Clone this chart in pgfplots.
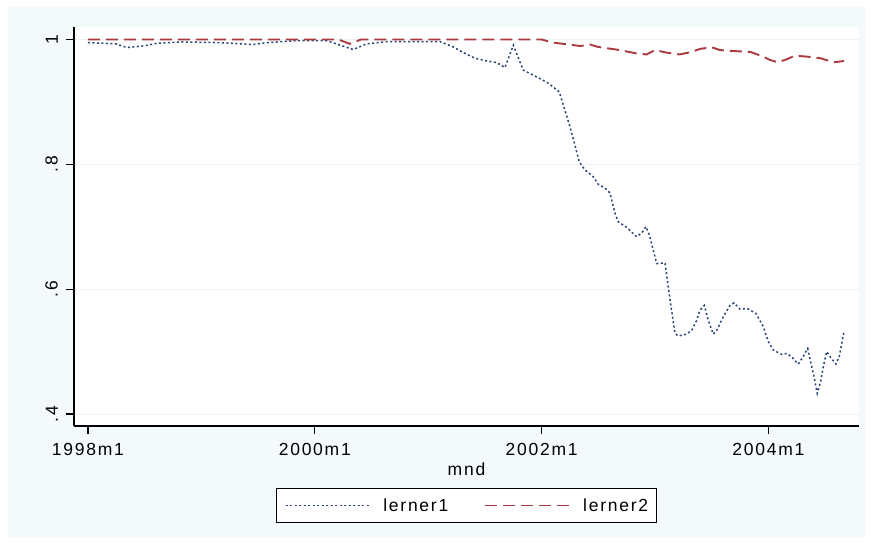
\documentclass[border=0pt]{standalone}
\usepackage{pgfplots}
\pgfplotsset{compat=1.18}
\usepackage{pgfplotstable}
\usepackage{fontspec}
\setmainfont{Liberation Sans}[LetterSpace=10]
\definecolor{bgblue}{RGB}{244,249,252}
\definecolor{gridblue}{RGB}{234,243,248}
\definecolor{lone}{RGB}{38,66,120}
\definecolor{ltwo}{RGB}{170,58,63}
\pgfplotstableread{
m v
0 0.995
2.96 0.993
4.13 0.987
6.03 0.990
7.3 0.994
9.95 0.996
13.97 0.995
17.46 0.992
19.05 0.995
21.9 0.998
25.29 0.998
28.07 0.984
29.49 0.993
31.61 0.9965
37.25 0.9965
38.66 0.988
39.71 0.979
40.95 0.970
42.19 0.9655
43.25 0.963
44.13 0.955
45.01 0.991
45.71 0.964
46.06 0.951
47.48 0.940
48.71 0.930
49.87 0.916
51.01 0.860
51.99 0.804
52.59 0.791
53.47 0.780
54.0 0.768
54.71 0.762
55.24 0.754
55.77 0.7215
56.12 0.708
57.0 0.699
58.06 0.684
58.59 0.690
59.05 0.700
59.4 0.687
60.18 0.641
61.06 0.642
61.59 0.583
62.12 0.529
62.46 0.525
63.35 0.528
63.88 0.534
64.41 0.550
64.76 0.566
65.22 0.574
65.64 0.550
66.17 0.528
66.53 0.534
67.23 0.556
67.94 0.574
68.36 0.578
69.0 0.568
69.77 0.569
70.69 0.561
71.46 0.540
71.99 0.516
72.52 0.5025
73.41 0.4955
74.0 0.497
74.63 0.489
75.16 0.480
75.69 0.492
76.16 0.505
76.51 0.481
76.83 0.460
77.17 0.433
77.53 0.452
77.81 0.476
78.17 0.500
78.52 0.492
79.15 0.480
79.5 0.492
80.0 0.532
}\lernerone
\pgfplotstableread{
m v
0 1.0
26.5 1.0
27.7 0.993
28.9 1.0
48.0 1.0
49.2 0.995
50.3 0.993
52.1 0.9895
53.1 0.992
54.0 0.988
54.9 0.986
56.3 0.983
57.9 0.978
59.1 0.976
60.0 0.983
61.2 0.979
62.6 0.976
63.7 0.9795
64.8 0.985
66.0 0.9875
66.9 0.983
68.3 0.9815
70.1 0.980
71.3 0.9735
72.2 0.967
73.0 0.9635
73.9 0.968
74.8 0.974
76.1 0.9725
77.5 0.970
78.9 0.9635
80.0 0.9655
}\lernertwo
\begin{document}
\begin{tikzpicture}[font=\fontsize{17.5}{21}\selectfont]
\path[fill=white, use as bounding box] (0,0) rectangle (873pt,544pt);
\fill[bgblue] (8pt,7pt) rectangle (865pt,537pt);
\begin{axis}[
 at={(74pt,118pt)}, anchor=south west,
 scale only axis, width=785pt, height=399pt,
 xmin=-1.48, xmax=81.59, ymin=0.3808, ymax=1.020,
 axis x line*=bottom, axis y line*=left,
 axis line style={-, line width=1.3pt, black},
 axis background/.style={fill=white},
 xtick={0,24,48,72}, xticklabels={1998m1,2000m1,2002m1,2004m1},
 ytick={0.4,0.6,0.8,1}, yticklabels={.4,.6,.8,1},
 tick align=outside, major tick length=8pt,
 tick style={line width=1.3pt, black},
 minor tick num=0,
 ymajorgrids, grid style={gridblue, line width=1pt},
 yticklabel style={rotate=90, anchor=south, inner sep=0pt},
 xticklabel style={anchor=north, inner sep=0pt},
 yticklabel shift=8pt, xticklabel shift=9pt,
 xlabel={mnd},
 xlabel style={at={(axis description cs:0.5,0)}, anchor=north, yshift=-37pt, inner sep=0pt},
 legend style={at={(axis description cs:0.5,0)}, anchor=north, yshift=-62pt,
   draw=black, line width=0.8pt, fill=white, legend columns=2,
   inner xsep=8pt, inner ysep=10pt, nodes={inner sep=0pt},
   /tikz/every odd column/.append style={column sep=12pt},
   /tikz/every even column/.append style={column sep=36pt}},
 legend image code/.code={\draw[#1] (0pt,0pt) -- (85pt,0pt);},
]
\addplot[lone, line width=1.5pt, dash pattern=on 2pt off 2.5pt] table[x=m, y=v] {\lernerone};
\addlegendentry{lerner1}
\addplot[ltwo, line width=1.9pt, dash pattern=on 12pt off 6pt] table[x=m, y=v] {\lernertwo};
\addlegendentry{lerner2}
\end{axis}
\end{tikzpicture}
\end{document}
